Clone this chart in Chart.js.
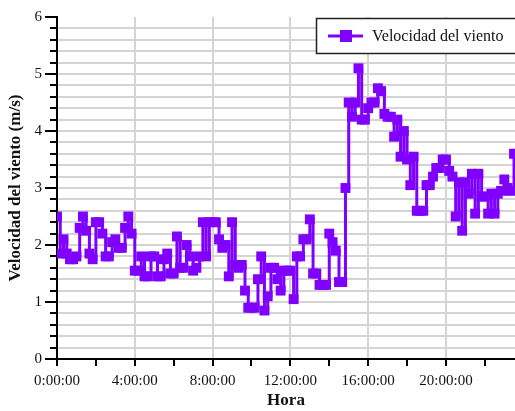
<!DOCTYPE html>
<html><head><meta charset="utf-8">
<script src="https://cdn.jsdelivr.net/npm/chart.js@4/dist/chart.umd.min.js"></script>
<style>html,body{margin:0;padding:0;background:#fff;overflow:hidden}</style>
</head><body>
<canvas id="c" width="515" height="411"></canvas>
<script>
const seriesLabel = 'Velocidad del viento';
const xTitle = 'Hora';
const yTitle = 'Velocidad del viento (m/s)';
const stepMinutes = 10;               // one reading every 10 minutes
const windSpeed = [
  2.5, 1.85, 2.1, 1.85, 1.75, 1.75,
  1.8, 2.3, 2.5, 2.25, 1.85, 1.75,
  2.4, 2.4, 2.2, 1.8, 1.8, 2.05,
  2.1, 1.95, 1.95, 2.3, 2.5, 2.2,
  1.55, 1.55, 1.8, 1.45, 1.45, 1.8,
  1.8, 1.45, 1.45, 1.75, 1.85, 1.5,
  1.5, 2.15, 1.6, 1.6, 2.0, 1.8,
  1.55, 1.6, 1.8, 2.4, 1.8, 2.4,
  2.4, 2.4, 2.1, 1.95, 2.0, 1.45,
  2.4, 1.65, 1.6, 1.65, 1.2, 0.9,
  0.9, 0.9, 1.4, 1.8, 0.85, 1.1,
  1.6, 1.6, 1.4, 1.2, 1.55, 1.55,
  1.55, 1.05, 1.8, 1.8, 2.1, 2.1,
  2.45, 1.5, 1.5, 1.3, 1.3, 1.3,
  2.2, 2.05, 1.9, 1.35, 1.35, 3.0,
  4.5, 4.25, 4.5, 5.1, 4.2, 4.2,
  4.4, 4.5, 4.5, 4.75, 4.7, 4.3,
  4.25, 4.25, 3.9, 4.2, 3.55, 4.0,
  3.5, 3.05, 3.55, 2.6, 2.6, 2.6,
  3.05, 3.05, 3.2, 3.35, 3.35, 3.5,
  3.5, 3.3, 3.2, 2.5, 3.1, 2.25,
  3.1, 2.9, 3.25, 2.55, 3.25, 2.85,
  2.85, 2.55, 2.9, 2.55, 2.9, 2.95,
  3.15, 3.0, 2.95, 3.6, 3.6, 3.6
];
const xLabelEveryHours = 4;
const xMinorEveryHours = 2;
const xMaxHours = 23.55;
const yMax = 6;
const yMinorStep = 0.2;

const purple = '#8000ff';
const gridGray = '#d4d4d4';
const serif = "'Liberation Serif', 'Times New Roman', serif";

const points = windSpeed.map((v, i) => ({ x: i * stepMinutes / 60, y: v }));
const isInt = v => Math.abs(v - Math.round(v)) < 1e-6;

const decorPlugin = {
  id: 'decor',
  afterDraw(chart) {
    const ctx = chart.ctx, ys = chart.scales.y, area = chart.chartArea;
    ctx.save();
    ctx.strokeStyle = '#000';
    ctx.lineWidth = 2;
    ys.ticks.forEach(t => {
      if (!isInt(t.value)) {
        const py = Math.round(ys.getPixelForValue(t.value));
        ctx.beginPath(); ctx.moveTo(area.left - 7, py); ctx.lineTo(area.left, py); ctx.stroke();
      }
    });
    // legend box
    const bx = 316.5, by = 18.5, bw = 210, bh = 35;
    ctx.fillStyle = '#fff';
    ctx.fillRect(bx, by, bw, bh);
    ctx.lineWidth = 1.5;
    ctx.strokeStyle = '#222';
    ctx.strokeRect(bx, by, bw, bh);
    const cy = by + bh / 2;
    ctx.strokeStyle = purple; ctx.lineWidth = 3;
    ctx.beginPath(); ctx.moveTo(328, cy); ctx.lineTo(363, cy); ctx.stroke();
    ctx.fillStyle = purple;
    ctx.fillRect(340, cy - 6, 12, 12);
    ctx.fillStyle = '#111';
    ctx.font = "16px " + serif;
    ctx.textBaseline = 'middle';
    ctx.textAlign = 'left';
    ctx.fillText(seriesLabel, 372, cy + 1);
    ctx.restore();
  }
};

new Chart(document.getElementById('c'), {
  type: 'line',
  data: {
    datasets: [{
      label: seriesLabel,
      data: points,
      stepped: true,
      borderColor: purple,
      backgroundColor: purple,
      borderWidth: 3,
      pointStyle: 'rect',
      pointRadius: 7,
      pointBorderWidth: 0,
      pointBackgroundColor: purple,
      fill: false,
      clip: 0
    }]
  },
  options: {
    responsive: false,
    animation: false,
    events: [],
    layout: { autoPadding: false, padding: { left: 0, right: 0, top: 17, bottom: 0 } },
    plugins: { legend: { display: false }, tooltip: { enabled: false } },
    scales: {
      x: {
        type: 'linear',
        min: 0,
        max: xMaxHours,
        afterBuildTicks: s => {
          const t = [];
          for (let h = 0; h <= xMaxHours; h += xMinorEveryHours) t.push({ value: h });
          s.ticks = t;
        },
        afterFit: s => { s.height = 52; },
        ticks: {
          autoSkip: false, maxRotation: 0, padding: 6,
          color: '#111',
          font: { family: serif, size: 15 },
          callback: v => (v % xLabelEveryHours === 0) ? `${v}:00:00` : ''
        },
        grid: {
          color: c => (c.tick && c.tick.value % xLabelEveryHours === 0) ? gridGray : 'rgba(0,0,0,0)',
          lineWidth: 2,
          tickColor: '#000',
          tickLength: 7,
          tickWidth: 2
        },
        border: { color: '#000', width: 2 },
        title: {
          display: true, text: xTitle, color: '#111',
          font: { family: serif, size: 17, weight: 'bold' },
          padding: { top: 3, bottom: 0 }
        }
      },
      y: {
        min: 0, max: yMax,
        afterFit: s => { s.width = 57; },
        ticks: {
          stepSize: yMinorStep, autoSkip: false, padding: 3,
          color: '#111',
          font: { family: serif, size: 15 },
          callback: v => isInt(v) ? String(Math.round(v)) : ''
        },
        grid: {
          color: c => (c.tick && c.tick.value >= yMax - 1e-6) ? 'rgba(0,0,0,0)' : gridGray,
          lineWidth: 2,
          tickColor: c => (c.tick && isInt(c.tick.value)) ? '#000' : 'rgba(0,0,0,0)',
          tickLength: 12,
          tickWidth: 2
        },
        border: { color: '#000', width: 2 },
        title: {
          display: true, text: yTitle, color: '#111',
          font: { family: serif, size: 17, weight: 'bold' },
          padding: { top: 5, bottom: 0 }
        }
      }
    }
  },
  plugins: [decorPlugin]
});
</script>
</body></html>
